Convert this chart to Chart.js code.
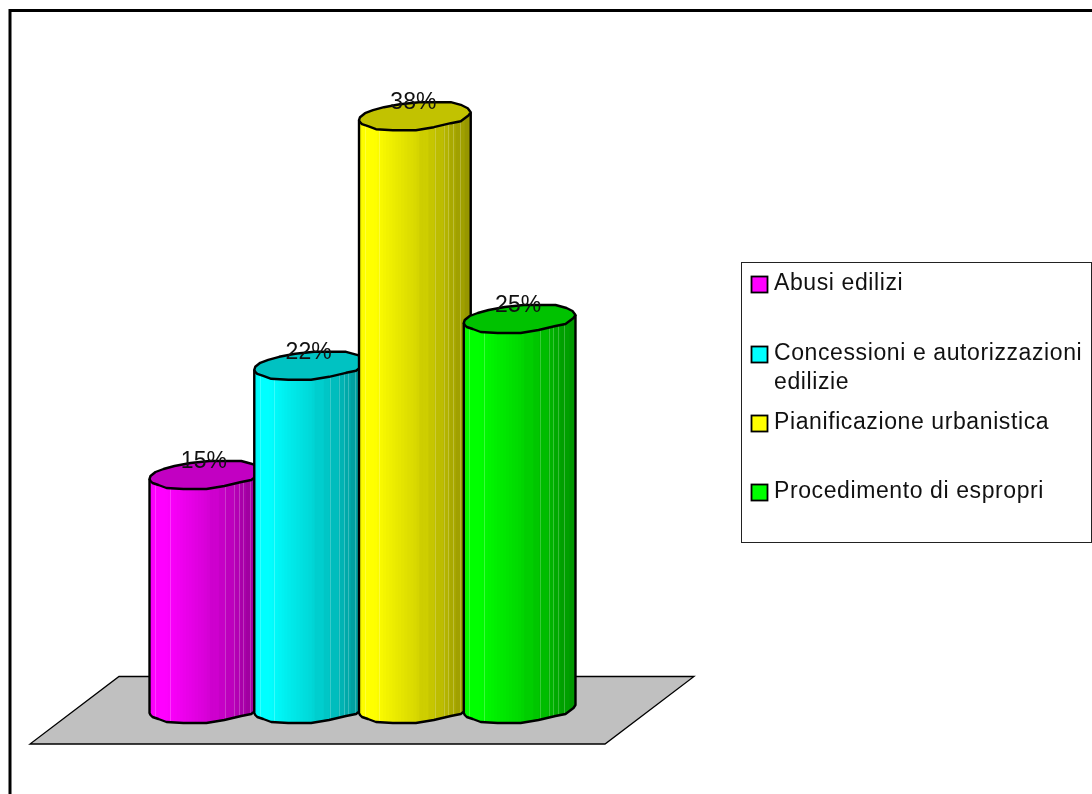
<!DOCTYPE html>
<html>
<head>
<meta charset="utf-8">
<style>
html,body{margin:0;padding:0;background:#fff;overflow:hidden}
canvas{display:block}
</style>
<script src="https://cdn.jsdelivr.net/npm/chart.js@4/dist/chart.umd.js"></script>
</head>
<body>
<canvas id="c" width="1092" height="794"></canvas>
<script>
const categories = ['Abusi edilizi', 'Concessioni e autorizzazioni edilizie', 'Pianificazione urbanistica', 'Procedimento di espropri'];
const shares = [15, 22, 38, 25];
const seriesColors = ['#ff00ff', '#00ffff', '#ffff00', '#00ff00'];

const FONT = '"Liberation Sans", Arial, sans-serif';

// Faceted rim of a cylinder, relative to its centre, for a reference width of 111px.
const RIM = [[-56,4],[-55,1],[-50,-3],[-42,-6],[-31,-9],[-15,-12],[4,-14],[26,-14],[36,-14],[47,-11],[53,-8],[56,-4],
             [54,-1],[46,5],[36,7],[19,11],[1,14],[-22,14],[-39,13],[-47,10],[-53,8],[-55,6]];
const RIGHT_END = 11;

// Brightness across the cylinder wall, left to right.
const SHADE = [[0,.95],[.05,1],[.14,1],[.3,.93],[.5,.85],[.62,.79],[.72,.74],[.85,.66],[1,.58]];
const STREAKS = [.05,.18,.68,.76,.8,.84,.9];
const STRIPS = 37;

function shadeAt(t){
  // the shaded side falls off in wider, visible bands
  if(t>.55) t=Math.round(t/.065)*.065;
  for(let i=1;i<SHADE.length;i++){
    if(t<=SHADE[i][0]){
      const [a,va]=SHADE[i-1],[b,vb]=SHADE[i];
      return va+(vb-va)*(t-a)/(b-a);
    }
  }
  return SHADE[SHADE.length-1][1];
}
function rgb(hex){return [1,3,5].map(i=>parseInt(hex.substr(i,2),16));}
function scaled(c,m){const v=rgb(c).map(x=>Math.round(x*m));return `rgb(${v[0]},${v[1]},${v[2]})`;}

function drawCylinder(ctx,bar,color){
  const k=bar.width/111, cx=bar.x, top=bar.y, base=bar.base;
  const px=p=>cx+p[0]*k;
  ctx.save();
  // wall outline, used as the clip for the shaded strips
  const wall=()=>{
    ctx.beginPath();
    ctx.moveTo(px(RIM[0]),top+RIM[0][1]);
    ctx.lineTo(px(RIM[RIGHT_END]),top+RIM[RIGHT_END][1]);
    for(let i=RIGHT_END;i<RIM.length;i++) ctx.lineTo(px(RIM[i]),base+RIM[i][1]);
    ctx.lineTo(px(RIM[0]),base+RIM[0][1]);
    ctx.closePath();
  };
  ctx.save();
  wall(); ctx.clip();
  const left=cx-56*k, w=112*k;
  for(let i=0;i<STRIPS;i++){
    ctx.fillStyle=scaled(color,shadeAt((i+.5)/STRIPS));
    ctx.fillRect(left+w*i/STRIPS,top-20,w/STRIPS+1,base-top+40);
  }
  ctx.fillStyle='rgba(255,255,255,.22)';
  STREAKS.forEach(t=>ctx.fillRect(Math.round(left+w*t),top-20,1,base-top+40));
  ctx.restore();
  // side edges and lower rim
  ctx.strokeStyle='#000'; ctx.lineWidth=2.4; ctx.lineJoin='round';
  ctx.beginPath();
  ctx.moveTo(px(RIM[RIGHT_END]),top+RIM[RIGHT_END][1]);
  for(let i=RIGHT_END;i<RIM.length;i++) ctx.lineTo(px(RIM[i]),base+RIM[i][1]);
  ctx.lineTo(px(RIM[0]),base+RIM[0][1]);
  ctx.lineTo(px(RIM[0]),top+RIM[0][1]);
  ctx.stroke();
  // lid
  ctx.beginPath();
  RIM.forEach((p,i)=>i?ctx.lineTo(px(p),top+p[1]):ctx.moveTo(px(p),top+p[1]));
  ctx.closePath();
  ctx.fillStyle=scaled(color,.76);
  ctx.fill(); ctx.stroke();
  ctx.restore();
}

function wrap(ctx,text,maxWidth){
  const lines=[]; let line='';
  text.split(' ').forEach(word=>{
    const next=line?line+' '+word:word;
    if(ctx.measureText(next).width>maxWidth&&line){lines.push(line);line=word;}
    else line=next;
  });
  lines.push(line);
  return lines;
}

const cylinderPlugin = {
  id:'cylinders',
  beforeDraw(chart){
    const ctx=chart.ctx;
    // frame of the chart object
    ctx.save();
    ctx.strokeStyle='#000'; ctx.lineWidth=3;
    ctx.beginPath();
    ctx.moveTo(10,794); ctx.lineTo(10,10.5); ctx.lineTo(1092,10.5);
    ctx.stroke();
    ctx.restore();
  },
  beforeDatasetsDraw(chart){
    // gray floor under the columns
    const ctx=chart.ctx, a=chart.chartArea, y0=chart.scales.y.getPixelForValue(0);
    ctx.save();
    ctx.beginPath();
    ctx.moveTo(a.left-34,y0-32.5);
    ctx.lineTo(a.right+122,y0-32.5);
    ctx.lineTo(a.right+33,y0+35);
    ctx.lineTo(a.left-123,y0+35);
    ctx.closePath();
    ctx.fillStyle='#c0c0c0'; ctx.fill();
    ctx.strokeStyle='#000'; ctx.lineWidth=1.3; ctx.stroke();
    ctx.restore();
  },
  beforeDatasetDraw(chart,args){
    const ds=chart.data.datasets[args.index];
    args.meta.data.forEach((bar,i)=>drawCylinder(chart.ctx,bar,ds.backgroundColor[i]));
    return false;
  },
  afterDatasetsDraw(chart){
    const ctx=chart.ctx, meta=chart.getDatasetMeta(0);
    ctx.save();
    ctx.fillStyle='#111'; ctx.font='23px '+FONT;
    ctx.textAlign='center'; ctx.textBaseline='alphabetic';
    meta.data.forEach((bar,i)=>ctx.fillText(shares[i]+'%',bar.x-1.5,bar.y-7));
    ctx.restore();

    // legend box
    ctx.save();
    ctx.fillStyle='#fff'; ctx.fillRect(741.5,262.5,350,280);
    ctx.strokeStyle='#222'; ctx.lineWidth=1; ctx.strokeRect(741.5,262.5,350,280);
    const baselines=[290,360,429,498];
    ctx.font='23px '+FONT; ctx.textBaseline='alphabetic'; ctx.textAlign='left';
    ctx.letterSpacing='0.6px';
    categories.forEach((name,i)=>{
      ctx.fillStyle=seriesColors[i];
      ctx.strokeStyle='#000'; ctx.lineWidth=1.8;
      ctx.fillRect(751.5,baselines[i]-13.5,16,16);
      ctx.strokeRect(751.5,baselines[i]-13.5,16,16);
      ctx.fillStyle='#111';
      wrap(ctx,name,316).forEach((line,j)=>ctx.fillText(line,774,baselines[i]+j*29));
    });
    ctx.restore();
  }
};

new Chart(document.getElementById('c'),{
  type:'bar',
  data:{labels:categories,datasets:[{
    data:shares,
    backgroundColor:seriesColors,
    barPercentage:1.057,
    categoryPercentage:1
  }]},
  options:{
    responsive:false,
    animation:false,
    devicePixelRatio:1,
    layout:{padding:{left:153,right:520,top:85,bottom:85}},
    scales:{
      x:{display:false},
      y:{display:false,min:0,max:40}
    },
    plugins:{legend:{display:false},tooltip:{enabled:false}}
  },
  plugins:[cylinderPlugin]
});
</script>
</body>
</html>
